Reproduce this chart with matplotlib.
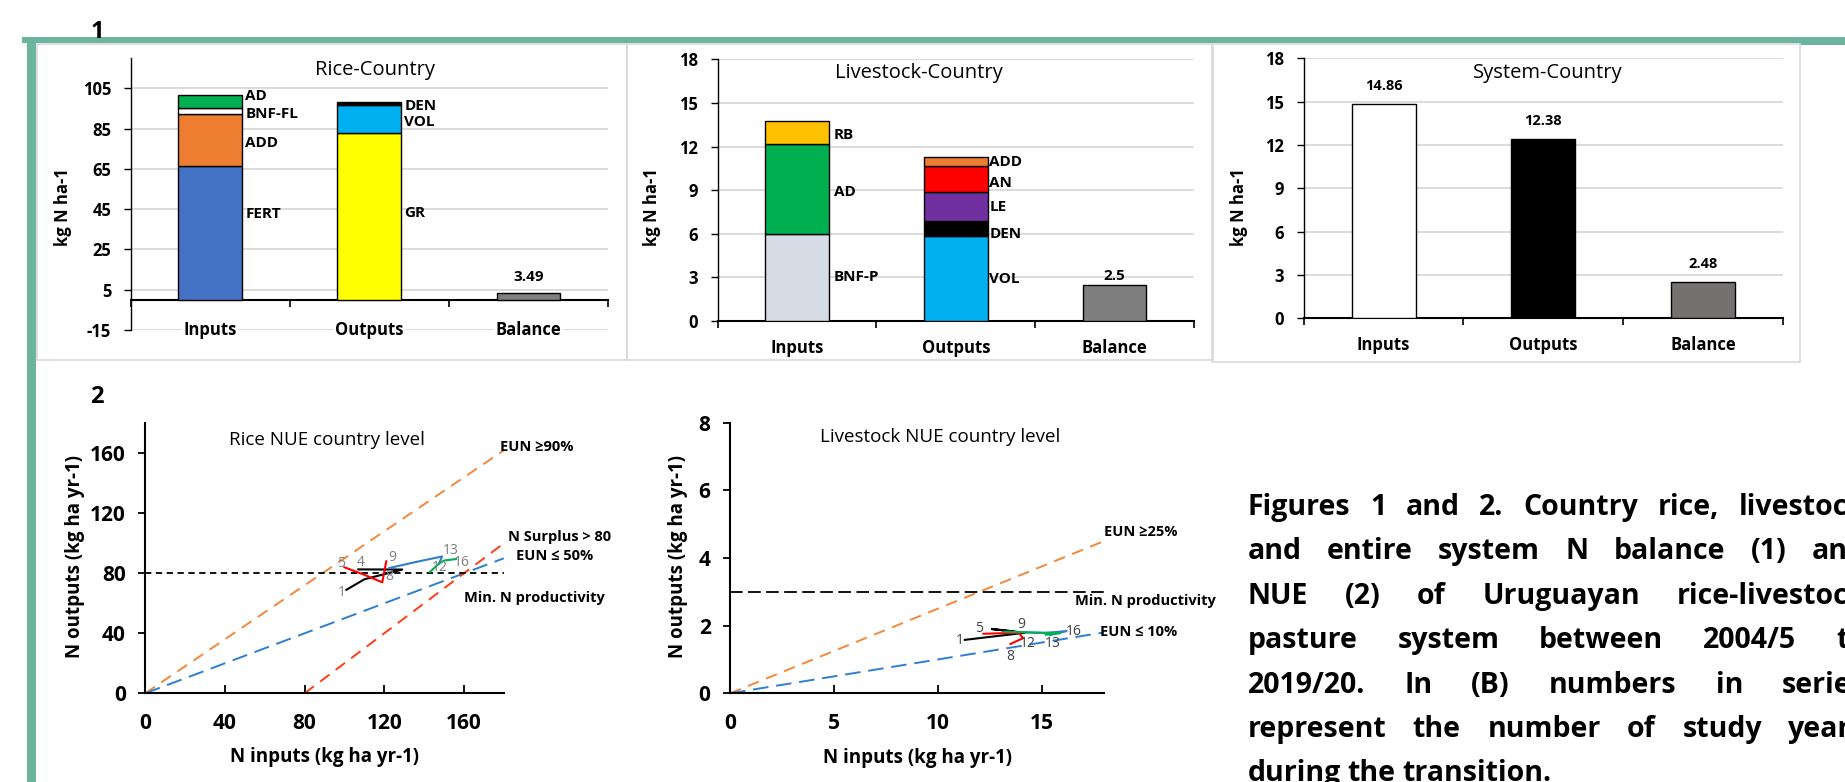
import numpy as np
import matplotlib
matplotlib.use('Agg')
import matplotlib.pyplot as plt
from matplotlib.patches import Rectangle

plt.rcParams['font.family'] = ['Open Sans', 'DejaVu Sans']

# ---------------- data ----------------
categories = ['Inputs', 'Outputs', 'Balance']

rice_in_names = ['FERT', 'ADD', 'BNF-FL', 'AD']
rice_in_vals = [66.3, 26.1, 2.8, 6.3]
rice_out_names = ['GR', 'VOL', 'DEN']
rice_out_vals = [82.8, 13.7, 1.5]
rice_balance = 3.49

lv_in_names = ['BNF-P', 'AD', 'RB']
lv_in_vals = [6.0, 6.15, 1.6]
lv_out_names = ['VOL', 'DEN', 'LE', 'AN', 'ADD']
lv_out_vals = [5.85, 1.03, 2.0, 1.8, 0.57]
lv_balance = 2.5

sys_vals = [14.86, 12.38, 2.48]

# NUE trajectories, study years 1..16 (4 colour groups of 4 years)
rice_nin = [101, 110, 129, 107, 100, 110, 119, 121, 122.5, 135, 149, 147.5, 143, 147.5, 150, 156]
rice_nout = [69, 76, 82.5, 82.6, 84, 79, 74, 88, 83.5, 87.3, 91.2, 86.5, 81, 86.5, 88.5, 89.5]
lv_nin = [11.3, 14.2, 12.6, 13.6, 12.2, 13.9, 14.1, 13.5, 14.2, 15.1, 16.2, 15.4, 13.2, 14.5, 15.9, 15.2]
lv_nout = [1.58, 1.79, 1.90, 1.83, 1.76, 1.79, 1.63, 1.46, 1.80, 1.78, 1.84, 1.72, 1.82, 1.80, 1.78, 1.73]
group_colors = ['black', '#FF0000', '#2E7FD0', '#00B050']

rice_year_labels = ['1', '4', '5', '8', '9', '12', '13', '16']
lv_year_labels = ['1', '5', '9', '12', '8', '13', '16']

# reference lines
rice_eun_high, rice_eun_low, rice_surplus, rice_min_prod, rice_xmax = 0.9, 0.5, 80, 80, 180
lv_eun_high, lv_eun_low, lv_min_prod, lv_xmax = 0.25, 0.10, 3, 18

caption = ["Figures 1 and 2. Country rice, livestock",
           "and entire system N balance (1) and",
           "NUE (2) of Uruguayan rice-livestock",
           "pasture system between 2004/5 to",
           "2019/20. In (B) numbers in series",
           "represent the number of study years",
           "during the transition."]

# ---------------- styles / layout ----------------
rice_in_colors = ['#4472C4', '#ED7D31', 'white', '#00B050']
rice_out_colors = ['#FFFF00', '#00B0F0', 'black']
lv_in_colors = ['#D6DCE5', '#00B050', '#FFC000']
lv_out_colors = ['#00B0F0', 'black', '#7030A0', '#FF0000', '#ED7D31']
sys_colors = ['white', 'black', '#767171']
bal_color = '#7F7F7F'

rice_in_label_y = [42.8, 77.6, 92.4, 101.2]
rice_out_label_y = [43.3, 88.0, 96.0]
lv_in_label_y = [3.05, 8.85, 12.79]
lv_out_label_y = [2.87, 6.0, 7.82, 9.47, 10.91]

rice_lab_xy = [(98.7, 67.5), (108.4, 87), (98.2, 86.4), (122.7, 78.1), (123.9, 90.4),
               (147.8, 83.7), (153.2, 95.2), (158.7, 87.5)]
lv_lab_xy = [(11.08, 1.56), (12.0, 1.92), (14.03, 2.02), (14.31, 1.48), (13.48, 1.10),
             (15.51, 1.48), (16.53, 1.82)]

W, H = 1845, 782
GREEN = '#6BB59F'


def fx(x):
    return x / W


def fy(y):
    return 1 - y / H


def box(x0, y0, x1, y1):
    return [x0 / W, 1 - y1 / H, (x1 - x0) / W, (y1 - y0) / H]


fig = plt.figure(figsize=(W / 100, H / 100), dpi=100)
fig.patch.set_facecolor('white')

# frame and panel boxes
for (x0, y0, x1, y1) in [(22, 37.5, 1845, 42.5), (27, 37.5, 36, 782), (1800, 37.5, 1845, 45)]:
    fig.add_artist(Rectangle((fx(x0), fy(y1)), (x1 - x0) / W, (y1 - y0) / H,
                             transform=fig.transFigure, color=GREEN, lw=0, zorder=-1))
for (x0, y0, x1, y1) in [(37, 44, 626.5, 360), (627, 44, 1213, 360), (1212, 44, 1800, 361.5)]:
    fig.add_artist(Rectangle((fx(x0), fy(y1)), (x1 - x0) / W, (y1 - y0) / H,
                             transform=fig.transFigure, fill=False, edgecolor='#D9D9D9',
                             lw=1.2, zorder=-1))

fig.text(fx(97), fy(32), '1', fontsize=17, fontweight='bold', ha='center', va='center')
fig.text(fx(97), fy(397), '2', fontsize=17, fontweight='bold', ha='center', va='center')


def style_bar_ax(ax, ylim, yticks):
    ax.patch.set_alpha(0)
    ax.set_xlim(-0.5, 2.5)
    ax.set_ylim(*ylim)
    ax.set_yticks(yticks)
    ax.set_yticklabels([str(t) for t in yticks], fontweight='bold', fontsize=12)
    ax.tick_params(axis='y', direction='out', length=5, width=1, pad=9)
    ax.grid(axis='y', color='#D9D9D9', linewidth=1.3)
    ax.set_axisbelow(True)
    ax.spines['top'].set_visible(False)
    ax.spines['right'].set_visible(False)
    ax.spines['bottom'].set_position(('data', 0))
    ax.spines['bottom'].set_linewidth(1.5)
    ax.spines['left'].set_linewidth(1.0)
    ax.set_xticks([0, 1, 2])
    ax.set_xticks([-0.5, 0.5, 1.5, 2.5], minor=True)
    ax.tick_params(axis='x', which='major', length=0, labelbottom=False)
    ax.tick_params(axis='x', which='minor', direction='out', length=5, width=1.2)


def stack(ax, x, vals, colors):
    bottom = 0
    for v, c in zip(vals, colors):
        ax.bar(x, v, width=0.4, bottom=bottom, color=c, edgecolor='black', linewidth=1.0, zorder=3)
        bottom += v


def cat_labels(ax, offset, bg=False):
    for i, c in enumerate(categories):
        kw = dict(bbox=dict(facecolor='white', edgecolor='none', pad=1)) if bg else {}
        ax.annotate(c, (i, 0), xycoords=('data', 'axes fraction'), xytext=(0, -offset),
                    textcoords='offset points', ha='center', va='center',
                    fontsize=12, fontweight='bold', annotation_clip=False, **kw)


def seg_labels(ax, x, names, ys):
    for n, y in zip(names, ys):
        ax.text(x, y, n, ha='left', va='center', fontsize=11, fontweight='bold', zorder=4)


# ---- Rice-Country ----
ax1 = fig.add_axes(box(130.6, 58, 608, 330))
style_bar_ax(ax1, (-15, 120), [-15, 5, 25, 45, 65, 85, 105])
stack(ax1, 0, rice_in_vals, rice_in_colors)
stack(ax1, 1, rice_out_vals, rice_out_colors)
ax1.bar(2, rice_balance, width=0.4, color=bal_color, edgecolor='black', linewidth=1.0, zorder=3)
ax1.annotate(f'{rice_balance}', (2, rice_balance), xytext=(0, 6), textcoords='offset points',
             ha='center', va='bottom', fontsize=11, fontweight='bold')
seg_labels(ax1, 0.22, rice_in_names, rice_in_label_y)
seg_labels(ax1, 1.22, rice_out_names, rice_out_label_y)
cat_labels(ax1, 0, bg=True)
ax1.set_ylabel('kg N ha-1', fontsize=12, fontweight='bold', va='center')
ax1.yaxis.set_label_coords(-0.1416, 0.452)
fig.text(fx(375), fy(70), 'Rice-Country', fontsize=14.5, ha='center', va='center')

# ---- Livestock-Country ----
ax2 = fig.add_axes(box(717.6, 59.3, 1194, 321))
style_bar_ax(ax2, (0, 18), [0, 3, 6, 9, 12, 15, 18])
stack(ax2, 0, lv_in_vals, lv_in_colors)
stack(ax2, 1, lv_out_vals, lv_out_colors)
ax2.bar(2, lv_balance, width=0.4, color=bal_color, edgecolor='black', linewidth=1.0, zorder=3)
ax2.annotate(f'{lv_balance}', (2, lv_balance), xytext=(0, 1), textcoords='offset points',
             ha='center', va='bottom', fontsize=11, fontweight='bold')
seg_labels(ax2, 0.23, lv_in_names, lv_in_label_y)
seg_labels(ax2, 1.21, lv_out_names, lv_out_label_y)
cat_labels(ax2, 19.4)
ax2.set_ylabel('kg N ha-1', fontsize=12, fontweight='bold', va='center')
ax2.yaxis.set_label_coords(-0.1367, 0.4356)
fig.text(fx(918.5), fy(73), 'Livestock-Country', fontsize=14.5, ha='center', va='center')

# ---- System-Country ----
ax3 = fig.add_axes(box(1303.7, 58.3, 1783, 318.3))
style_bar_ax(ax3, (0, 18), [0, 3, 6, 9, 12, 15, 18])
ax3.bar(range(3), sys_vals, width=0.4, color=sys_colors, edgecolor='black', linewidth=1.0, zorder=3)
for i, v in enumerate(sys_vals):
    ax3.annotate(f'{v}', (i, v), xytext=(0, 8), textcoords='offset points',
                 ha='center', va='bottom', fontsize=10.5, fontweight='bold')
cat_labels(ax3, 19.2)
ax3.set_ylabel('kg N ha-1', fontsize=12, fontweight='bold', va='center')
ax3.yaxis.set_label_coords(-0.135, 0.428)
fig.text(fx(1547.6), fy(72.7), 'System-Country', fontsize=14.5, ha='center', va='center')


# ---- NUE plots ----
def style_nue(ax, xlim, ylim, xticks, yticks):
    ax.patch.set_alpha(0)
    ax.set_xlim(*xlim)
    ax.set_ylim(*ylim)
    ax.set_xticks(xticks)
    ax.set_xticklabels([str(t) for t in xticks], fontsize=15, fontweight='bold')
    ax.set_yticks(yticks)
    ax.set_yticklabels([str(t) for t in yticks], fontsize=15, fontweight='bold')
    ax.spines['top'].set_visible(False)
    ax.spines['right'].set_visible(False)
    for s in ['left', 'bottom']:
        ax.spines[s].set_linewidth(1.5)
    ax.tick_params(axis='x', direction='in', length=6, width=1.3, pad=14)
    ax.tick_params(axis='y', direction='out', length=5, width=1.3, pad=9)


def trajectory(ax, xs, ys):
    for g, c in enumerate(group_colors):
        ax.plot(xs[g * 4:g * 4 + 4], ys[g * 4:g * 4 + 4], color=c, lw=1.5, zorder=4)


ax4 = fig.add_axes(box(145.2, 423.3, 503.8, 693.3))
style_nue(ax4, (0, rice_xmax), (0, 180), [0, 40, 80, 120, 160], [0, 40, 80, 120, 160])
xr = np.array([0, rice_xmax])
ax4.plot(xr, rice_eun_high * xr, color='#F4873A', ls=(0, (6, 4)), lw=1.4)
ax4.plot(xr, rice_eun_low * xr, color='#2E7FD0', ls=(0, (8, 4)), lw=1.4)
ax4.plot([rice_surplus, rice_xmax], [0, rice_xmax - rice_surplus], color='#FF3D14',
         ls=(0, (6, 4)), lw=1.4)
ax4.axhline(rice_min_prod, color='black', ls=(0, (3.5, 2.5)), lw=1.3)
trajectory(ax4, rice_nin, rice_nout)
for s, (x, y) in zip(rice_year_labels, rice_lab_xy):
    ax4.text(x, y, s, fontsize=10, color='#7F7F7F', ha='center', va='center', zorder=5)
lab_kw = dict(fontsize=10.5, fontweight='bold', ha='left', va='center', clip_on=False)
ax4.text(177.9, 164.5, 'EUN ≥90%', **lab_kw)
ax4.text(182, 104, 'N Surplus > 80', **lab_kw)
ax4.text(186, 91.4, 'EUN ≤ 50%', **lab_kw)
ax4.text(160, 63.5, 'Min. N productivity', **lab_kw)
ax4.set_xlabel('N inputs (kg ha yr-1)', fontsize=13.5, fontweight='bold', va='center')
ax4.xaxis.set_label_coords(0.501, -0.235)
ax4.set_ylabel('N outputs (kg ha yr-1)', fontsize=13.5, fontweight='bold', va='center')
ax4.yaxis.set_label_coords(-0.197, 0.506)
fig.text(fx(327), fy(440), 'Rice NUE country level', fontsize=13.5, ha='center', va='center')

ax5 = fig.add_axes(box(730, 422.7, 1104, 693.3))
style_nue(ax5, (0, lv_xmax), (0, 8), [0, 5, 10, 15], [0, 2, 4, 6, 8])
xl = np.array([0, lv_xmax])
ax5.plot(xl, lv_eun_high * xl, color='#F4873A', ls=(0, (6, 4)), lw=1.4)
ax5.plot(xl, lv_eun_low * xl, color='#2E7FD0', ls=(0, (8, 4)), lw=1.4)
ax5.axhline(lv_min_prod, color='black', ls=(0, (7, 3)), lw=1.3)
trajectory(ax5, lv_nin, lv_nout)
for s, (x, y) in zip(lv_year_labels, lv_lab_xy):
    ax5.text(x, y, s, fontsize=10, color='#404040', ha='center', va='center', zorder=5)
ax5.text(18.0, 4.78, 'EUN ≥25%', **lab_kw)
ax5.text(16.6, 2.74, 'Min. N productivity', **lab_kw)
ax5.text(17.8, 1.80, 'EUN ≤ 10%', **lab_kw)
ax5.set_xlabel('N inputs (kg ha yr-1)', fontsize=13.5, fontweight='bold', va='center')
ax5.xaxis.set_label_coords(0.501, -0.239)
ax5.set_ylabel('N outputs (kg ha yr-1)', fontsize=13.5, fontweight='bold', va='center')
ax5.yaxis.set_label_coords(-0.139, 0.505)
fig.text(fx(940.4), fy(436.7), 'Livestock NUE country level', fontsize=13.5, ha='center', va='center')

# ---- justified caption (runs off the right edge like the reference) ----
renderer = fig.canvas.get_renderer()
cap_left, cap_right, base0, step = 1247.6, 1866, 515, 44.4
for i, line in enumerate(caption):
    words = line.split(' ')
    ts = [fig.text(0, fy(base0 + i * step), w, fontsize=20.5, fontweight='bold', va='baseline')
          for w in words]
    ws = [t.get_window_extent(renderer).width for t in ts]
    gap = (cap_right - cap_left - sum(ws)) / (len(words) - 1) if i < len(caption) - 1 else 7
    x = cap_left
    for t, w in zip(ts, ws):
        t.set_x(fx(x))
        x += w + gap

fig.savefig('out.png', dpi=100, facecolor='white')
